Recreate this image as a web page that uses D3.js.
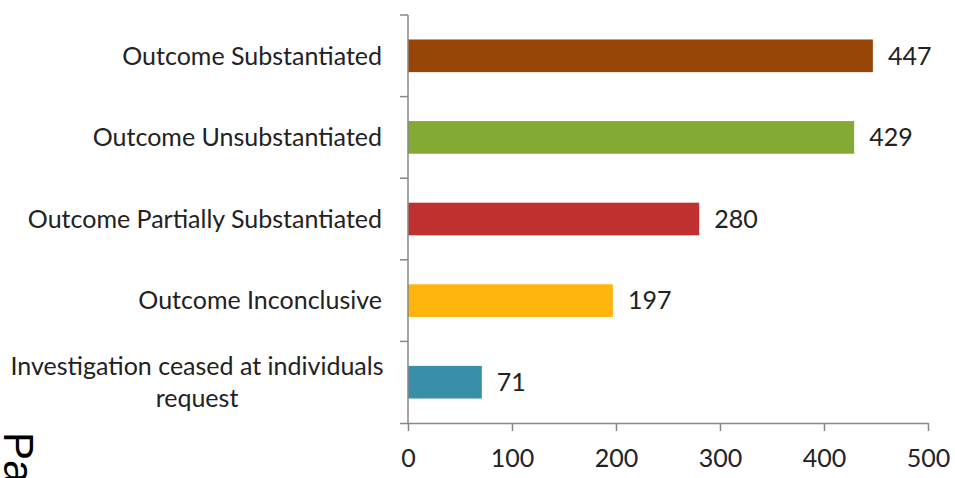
<!DOCTYPE html>
<html>
<head>
<meta charset="utf-8">
<script src="https://cdn.jsdelivr.net/npm/d3@7"></script>
<style>
  body { margin: 0; background: #fff; }
  svg { display: block; }
</style>
</head>
<body>
<svg id="chart" width="955" height="478"></svg>
<script>
var categories = ["Outcome Substantiated", "Outcome Unsubstantiated", "Outcome Partially Substantiated", "Outcome Inconclusive", "Investigation ceased at individuals request"];
var values = [447, 429, 280, 197, 71];
var barColors = ["#984607", "#84A935", "#C0302F", "#FFB50B", "#3A8FA8"];
var xTicks = [0, 100, 200, 300, 400, 500];

var svg = d3.select("#chart");
var font = "Lato, 'Open Sans', sans-serif";
var fontSize = "25px";

var x = d3.scaleLinear().domain([0, 500]).range([408, 928]);
var y = d3.scaleBand().domain(categories).range([15, 423]).paddingInner(0.6).paddingOuter(0.3);

// bars
svg.selectAll("rect.bar")
  .data(values)
  .enter()
  .append("rect")
  .attr("class", "bar")
  .attr("x", x(0))
  .attr("y", function(d, i) { return y(categories[i]); })
  .attr("width", function(d) { return x(d) - x(0); })
  .attr("height", y.bandwidth())
  .attr("fill", function(d, i) { return barColors[i]; });

// value labels
svg.selectAll("text.val")
  .data(values)
  .enter()
  .append("text")
  .attr("class", "val")
  .attr("x", function(d) { return x(d) + 15; })
  .attr("y", function(d, i) { return y(categories[i]) + y.bandwidth() / 2; })
  .attr("dy", "0.35em")
  .style("font-family", font)
  .style("font-size", fontSize)
  .style("fill", "#222")
  .text(function(d) { return d; });

// y axis line + boundary ticks
var axisColor = "#888";
svg.append("line")
  .attr("x1", x(0)).attr("x2", x(0))
  .attr("y1", 15).attr("y2", 423)
  .style("stroke", axisColor).style("stroke-width", 1.5);

var bounds = d3.range(categories.length).map(function(i) { return 15 + i * (408 / categories.length); });
svg.selectAll("line.ytick")
  .data(bounds)
  .enter()
  .append("line")
  .attr("class", "ytick")
  .attr("x1", x(0) - 8).attr("x2", x(0))
  .attr("y1", function(d) { return d; }).attr("y2", function(d) { return d; })
  .style("stroke", axisColor).style("stroke-width", 1.5);

// category labels
svg.selectAll("text.cat")
  .data(categories)
  .enter()
  .append("text")
  .attr("class", "cat")
  .attr("text-anchor", "middle")
  .style("font-family", font)
  .style("font-size", fontSize)
  .style("fill", "#222")
  .each(function(d) {
    var t = d3.select(this);
    var cy = y(d) + y.bandwidth() / 2;
    if (d.length > 35) {
      t.append("tspan").attr("x", 197).attr("y", cy - 7).text("Investigation ceased at individuals");
      t.append("tspan").attr("x", 197).attr("y", cy + 25).text("request");
    } else {
      t.attr("text-anchor", "end").attr("x", 382).attr("y", cy).attr("dy", "0.35em").text(d);
    }
  });

// x axis
var xAxis = svg.append("g")
  .attr("transform", "translate(0,423)")
  .call(d3.axisBottom(x).tickValues(xTicks).tickSize(8).tickPadding(18));
xAxis.select(".domain").attr("d", "M" + (x(0) - 8) + ",0.5H" + x(500));
xAxis.selectAll("line, path").style("stroke", axisColor).style("stroke-width", 1.5);
xAxis.selectAll("text")
  .style("font-family", font)
  .style("font-size", fontSize)
  .style("fill", "#222");

// clipped rotated text at bottom left
svg.append("text")
  .attr("transform", "translate(4,432) rotate(90)")
  .style("font-family", "'Liberation Sans', Arial, sans-serif")
  .style("font-size", "42px")
  .style("fill", "#000")
  .text("Pa");
</script>
</body>
</html>
